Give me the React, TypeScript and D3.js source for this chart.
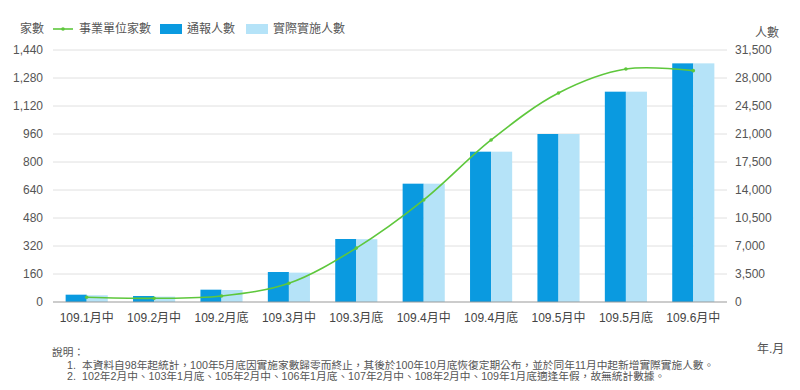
import React, { useEffect, useRef } from 'react';
import * as d3 from 'd3';

const categories = ['109.1月中', '109.2月中', '109.2月底', '109.3月中', '109.3月底', '109.4月中', '109.4月底', '109.5月中', '109.5月底', '109.6月中'];
const companies = [27, 21, 34, 107, 308, 583, 926, 1194, 1331, 1322];
const reported = [915, 750, 1540, 3750, 7875, 14790, 18790, 21000, 26290, 29830];
const actual = [840, 670, 1500, 3670, 7850, 14790, 18790, 21000, 26290, 29830];
const leftTicks = [0, 160, 320, 480, 640, 800, 960, 1120, 1280, 1440];
const rightTicks = [0, 3500, 7000, 10500, 14000, 17500, 21000, 24500, 28000, 31500];
const notes = [
  '本資料自98年起統計，100年5月底因實施家數歸零而終止，其後於100年10月底恢復定期公布，並於同年11月中起新增實際實施人數。',
  '102年2月中、103年1月底、105年2月中、106年1月底、107年2月中、108年2月中、109年1月底適逢年假，故無統計數據。',
];

const FONT = '"Liberation Sans", Arial, "Noto Sans CJK TC", sans-serif';
const BLUE = '#0a9ae0';
const LIGHT = '#b5e3f8';
const GREEN = '#5ec73c';
const TEXT = '#555';

export default function App() {
  const ref = useRef<SVGSVGElement>(null);

  useEffect(() => {
    const svg = d3.select(ref.current);
    svg.selectAll('*').remove();
    const left = 53, right = 727, top = 50, bottom = 302;

    const x = d3.scaleBand().domain(categories).range([left, right]);
    const xs = d3.scaleBand().domain(['r', 'a']).range([0, x.bandwidth()]).paddingInner(0).paddingOuter(0.6);
    const yL = d3.scaleLinear().domain([0, 1440]).range([bottom, top]);
    const yR = d3.scaleLinear().domain([0, 31500]).range([bottom, top]);

    // grid
    svg.append('g').selectAll('line').data(leftTicks.slice(1)).enter().append('line')
      .attr('x1', left).attr('x2', right)
      .attr('y1', d => yL(d)).attr('y2', d => yL(d))
      .attr('stroke', '#e0e0e0').attr('stroke-width', 1);

    svg.append('g').selectAll('text').data(leftTicks).enter().append('text')
      .attr('x', 43).attr('y', d => yL(d) + 4).attr('text-anchor', 'end')
      .style('font-size', '12px').style('font-family', FONT).attr('fill', TEXT)
      .text(d => d3.format(',')(d));

    svg.append('g').selectAll('text').data(rightTicks).enter().append('text')
      .attr('x', 735).attr('y', d => yR(d) + 4)
      .style('font-size', '12px').style('font-family', FONT).attr('fill', TEXT)
      .text(d => d3.format(',')(d));

    // bars
    const g = svg.append('g');
    g.selectAll('.r').data(reported).enter().append('rect')
      .attr('x', (d, i) => x(categories[i])! + xs('r')!)
      .attr('y', d => yR(d)).attr('width', xs.bandwidth())
      .attr('height', d => bottom - yR(d)).attr('fill', BLUE);
    g.selectAll('.a').data(actual).enter().append('rect')
      .attr('x', (d, i) => x(categories[i])! + xs('a')!)
      .attr('y', d => yR(d)).attr('width', xs.bandwidth())
      .attr('height', d => bottom - yR(d)).attr('fill', LIGHT);

    svg.append('line').attr('x1', left).attr('x2', right).attr('y1', bottom).attr('y2', bottom)
      .attr('stroke', '#999').attr('stroke-width', 1);

    svg.append('g').selectAll('text').data(categories).enter().append('text')
      .attr('x', d => x(d)! + x.bandwidth() / 2).attr('y', 322).attr('text-anchor', 'middle')
      .style('font-size', '12px').style('font-family', FONT).attr('fill', '#444')
      .text(d => d);

    // line
    const line = d3.line<number>()
      .x((d, i) => x(categories[i])! + x.bandwidth() / 2)
      .y(d => yL(d))
      .curve(d3.curveCatmullRom.alpha(0.5));
    svg.append('path').datum(companies).attr('d', line)
      .attr('fill', 'none').attr('stroke', GREEN).attr('stroke-width', 1.6);
    svg.append('g').selectAll('circle').data(companies).enter().append('circle')
      .attr('cx', (d, i) => x(categories[i])! + x.bandwidth() / 2).attr('cy', d => yL(d))
      .attr('r', 1.8).attr('fill', GREEN);

    // titles & legend
    const txt = (xp: number, yp: number, s: string, size = 12, anchor = 'start') =>
      svg.append('text').attr('x', xp).attr('y', yp).attr('text-anchor', anchor)
        .style('font-size', `${size}px`).style('font-family', FONT).attr('fill', TEXT).text(s);
    txt(20, 33, '家數');
    txt(755, 37, '人數');
    svg.append('line').attr('x1', 53).attr('x2', 73).attr('y1', 29).attr('y2', 29)
      .attr('stroke', GREEN).attr('stroke-width', 1.6);
    svg.append('circle').attr('cx', 63).attr('cy', 29).attr('r', 1.8).attr('fill', GREEN);
    txt(79, 33, '事業單位家數');
    svg.append('rect').attr('x', 160).attr('y', 24).attr('width', 22).attr('height', 10).attr('fill', BLUE);
    txt(187, 33, '通報人數');
    svg.append('rect').attr('x', 246).attr('y', 24).attr('width', 22).attr('height', 10).attr('fill', LIGHT);
    txt(273, 33, '實際實施人數');

    txt(757, 353, '年.月');
    txt(52, 356, '說明：', 10.7);
    notes.forEach((n, i) => {
      txt(67, 368.5 + i * 11.5, `${i + 1}.`, 10.7);
      txt(82, 368.5 + i * 11.5, n, 10.7);
    });
  }, []);

  return (
    <svg ref={ref} width={800} height={390}
      style={{ position: 'absolute', left: 0, top: 0, background: '#fff' }} />
  );
}
